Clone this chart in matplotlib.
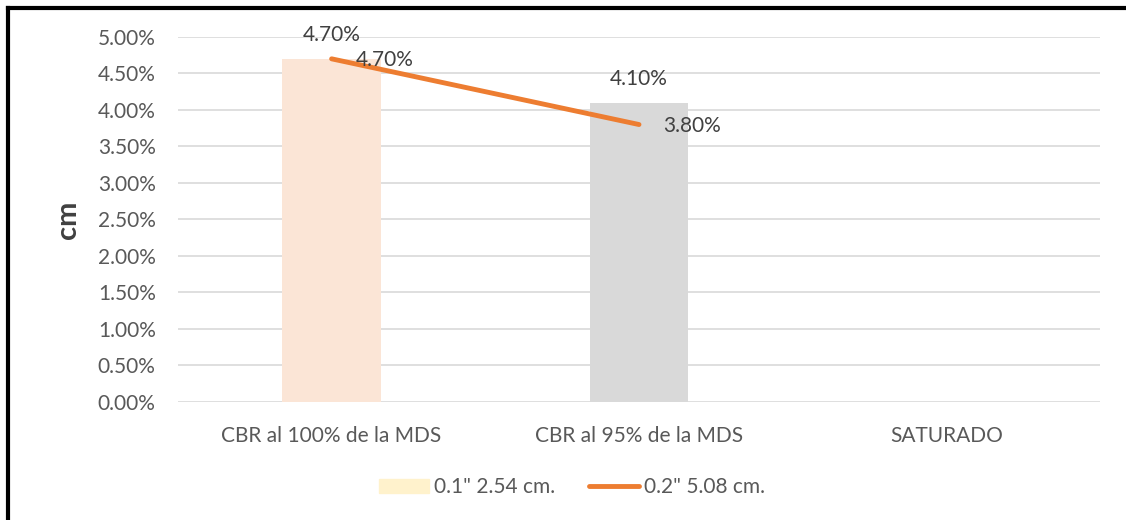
import matplotlib
matplotlib.use("Agg")
import numpy as np
import matplotlib.pyplot as plt
from matplotlib.ticker import PercentFormatter
from matplotlib.lines import Line2D

plt.rcParams['font.family'] = ['Lato', 'DejaVu Sans']

categories = ["CBR al 100% de la MDS", "CBR al 95% de la MDS", "SATURADO"]
pen_01 = [4.70, 4.10, np.nan]   # 0.1" 2.54 cm.
pen_02 = [4.70, 3.80, np.nan]   # 0.2" 5.08 cm.
bar_colors = ["#FBE5D6", "#D9D9D9", "#FFF2CC"]

text_col = "#595959"
grid_col = "#D9D9D9"
orange = "#ED7D31"
fs = 15

fig = plt.figure(figsize=(11.26, 5.2), dpi=100)
ax = fig.add_axes([0.158, 0.227, 0.819, 0.702])

x = np.arange(len(categories))
bars = ax.bar(x, pen_01, width=0.32, color=bar_colors, zorder=2,
              label='0.1" 2.54 cm.')
ax.plot(x, pen_02, color=orange, lw=3.5, solid_capstyle='round', zorder=3,
        label='0.2" 5.08 cm.')

for xi, v in zip(x, pen_01):
    if not np.isnan(v):
        ax.annotate(f"{v:.2f}%", (xi, v), xytext=(0, 17), textcoords="offset points",
                    ha="center", va="center", fontsize=fs, color="#404040", zorder=4)
for xi, v in zip(x, pen_02):
    if not np.isnan(v):
        ax.annotate(f"{v:.2f}%", (xi, v), xytext=(38, -1), textcoords="offset points",
                    ha="center", va="center", fontsize=fs, color="#404040", zorder=4)

ax.set_xlim(-0.5, 2.5)
ax.set_ylim(0, 5)
ax.set_yticks(np.arange(0, 5.01, 0.5))
ax.yaxis.set_major_formatter(PercentFormatter(decimals=2))
ax.set_xticks(x)
ax.set_xticklabels(categories)
ax.tick_params(length=0, labelsize=fs, colors=text_col)
ax.tick_params(axis='x', pad=17)
ax.tick_params(axis='y', pad=16)
ax.grid(axis='y', color=grid_col, lw=1.2, zorder=0)
for s in ax.spines.values():
    s.set_visible(False)

ax.set_ylabel("cm", fontsize=21, fontweight='bold', color="#404040", labelpad=12)

legend_handles = [
    plt.Rectangle((0, 0), 1, 1, color="#FFF2CC"),
    Line2D([0], [0], color=orange, lw=3.5, solid_capstyle='round'),
]
fig.legend(legend_handles, ['0.1" 2.54 cm.', '0.2" 5.08 cm.'], loc='center',
           bbox_to_anchor=(0.508, 0.063), ncol=2, frameon=False, fontsize=fs,
           labelcolor=text_col, handlelength=2.4, handletextpad=0.25,
           columnspacing=1.6)

# frame around the chart (top and left edges)
fig.add_artist(Line2D([0.0075, 0.0075], [0, 0.985], color='black', lw=3,
                      transform=fig.transFigure))
fig.add_artist(Line2D([0.0075, 1.0], [0.985, 0.985], color='black', lw=3,
                      transform=fig.transFigure))

fig.savefig("out.png", dpi=100, facecolor="white")
